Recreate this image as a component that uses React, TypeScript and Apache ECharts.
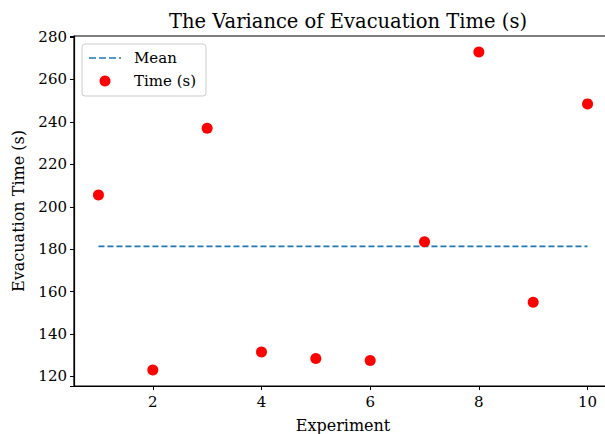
import React, { useEffect, useRef } from "react";
import * as echarts from "echarts";

const experiments = [1, 2, 3, 4, 5, 6, 7, 8, 9, 10];
const times = [205.5, 123, 237, 131.5, 128.5, 127.5, 183.5, 273, 155, 248.5];
const meanValue = times.reduce((a, b) => a + b, 0) / times.length;
const titleText = "The Variance of Evacuation Time (s)";
const xName = "Experiment";
const yName = "Evacuation Time (s)";
const legendNames = ["Mean", "Time (s)"];

const FONT = "DejaVu Serif";

export default function App() {
  const ref = useRef<HTMLDivElement>(null);
  useEffect(() => {
    if (!ref.current) return;
    const chart = echarts.init(ref.current, undefined, { renderer: "svg" });
    chart.setOption({
      animation: false,
      backgroundColor: "#ffffff",
      title: {
        text: titleText,
        left: 343,
        textAlign: "center",
        top: 6,
        textStyle: { fontFamily: FONT, fontSize: 19.5, fontWeight: "normal", color: "#000" },
      },
      grid: {
        left: 74,
        top: 36,
        width: 538,
        height: 350,
        outerBoundsMode: "none",
        containLabel: false,
        show: true,
        borderColor: "#000",
        borderWidth: 1.2,
        backgroundColor: "transparent",
      },
      xAxis: {
        type: "value",
        min: 0.55,
        max: 10.45,
        splitNumber: 5,
        name: xName,
        nameLocation: "middle",
        nameGap: 31,
        nameTextStyle: { fontFamily: FONT, fontSize: 16, color: "#000" },
        axisLine: { show: true, lineStyle: { color: "#000", width: 1.2 } },
        axisTick: { show: true, length: 4, lineStyle: { color: "#000", width: 1 } },
        axisLabel: {
          fontFamily: FONT,
          fontSize: 15,
          color: "#000",
          margin: 8,
          showMinLabel: false,
          showMaxLabel: false,
          formatter: (v: number) => (Math.abs(v % 2) < 1e-6 ? String(v) : ""),
        },
        splitLine: { show: false },
      },
      yAxis: {
        type: "value",
        min: 115.5,
        max: 280.5,
        splitNumber: 8,
        name: yName,
        nameLocation: "middle",
        nameGap: 48,
        nameTextStyle: { fontFamily: FONT, fontSize: 16, color: "#000" },
        axisLine: { show: true, lineStyle: { color: "#000", width: 1.2 } },
        axisTick: { show: true, length: 4, lineStyle: { color: "#000", width: 1 } },
        axisLabel: {
          fontFamily: FONT,
          fontSize: 15,
          color: "#000",
          margin: 7,
          formatter: (v: number) => (Math.abs(v % 20) < 1e-6 ? String(v) : ""),
        },
        splitLine: { show: false },
      },
      series: [
        {
          name: legendNames[0],
          type: "line",
          data: [
            [experiments[0], meanValue],
            [experiments[experiments.length - 1], meanValue],
          ],
          symbol: "none",
          lineStyle: { color: "#1f77b4", width: 1.6, type: [6, 3] },
          z: 2,
        },
        {
          name: legendNames[1],
          type: "scatter",
          data: experiments.map((e, i) => [e, times[i]]),
          symbol: "circle",
          symbolSize: 11,
          itemStyle: { color: "#ff0000", opacity: 1 },
          z: 3,
        },
      ],
      graphic: [
        {
          type: "rect",
          shape: { x: 82, y: 44, width: 124, height: 52, r: 3 },
          style: { fill: "rgba(255,255,255,0.8)", stroke: "#cccccc", lineWidth: 1 },
          z: 10,
        },
        {
          type: "line",
          shape: { x1: 89, y1: 58, x2: 121, y2: 58 },
          style: { stroke: "#1f77b4", lineWidth: 1.6, lineDash: [7, 3] },
          z: 11,
        },
        {
          type: "text",
          x: 134,
          y: 58,
          style: { text: legendNames[0], fontFamily: FONT, fontSize: 15, fill: "#000", verticalAlign: "middle" },
          z: 11,
        },
        {
          type: "circle",
          shape: { cx: 105, cy: 81, r: 5.5 },
          style: { fill: "#ff0000" },
          z: 11,
        },
        {
          type: "text",
          x: 134,
          y: 81,
          style: { text: legendNames[1], fontFamily: FONT, fontSize: 15, fill: "#000", verticalAlign: "middle" },
          z: 11,
        },
      ],
    });
    return () => chart.dispose();
  }, []);
  return (
    <div
      ref={ref}
      style={{ position: "fixed", left: 0, top: 0, width: 605, height: 434, background: "#fff" }}
    />
  );
}
